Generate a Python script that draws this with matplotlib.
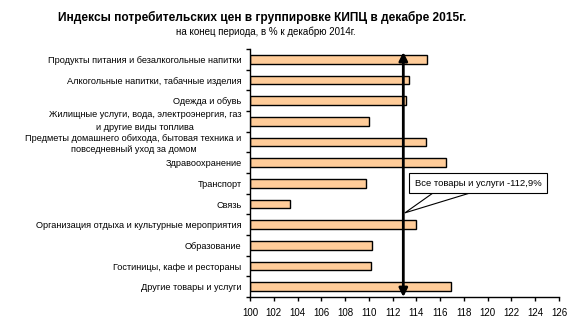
import matplotlib
matplotlib.use("Agg")
import matplotlib.pyplot as plt
from matplotlib.patches import Polygon, Rectangle
from matplotlib import font_manager as fm
import matplotlib.transforms as mtransforms

categories = [
    "Продукты питания и безалкогольные напитки",
    "Алкогольные напитки, табачные изделия",
    "Одежда и обувь",
    "Жилищные услуги, вода, электроэнергия, газ\nи другие виды топлива",
    "Предметы домашнего обихода, бытовая техника и\nповседневный уход за домом",
    "Здравоохранение",
    "Транспорт",
    "Связь",
    "Организация отдыха и культурные мероприятия",
    "Образование",
    "Гостиницы, кафе и рестораны",
    "Другие товары и услуги",
]
values = [114.9, 113.4, 113.1, 110.0, 114.8, 116.5, 109.8, 103.4, 114.0, 110.3, 110.2, 116.9]
total = 112.9
total_label = "Все товары и услуги -112,9%"
xticks = list(range(100, 127, 2))

names = {f.name for f in fm.fontManager.ttflist}
plt.rcParams['font.family'] = ['Liberation Sans', 'DejaVu Sans']
if "Liberation Sans Narrow" in names:
    title_family, title_size = "Liberation Sans Narrow", 10.5
else:
    title_family, title_size = "Liberation Sans", 8.6

fig = plt.figure(figsize=(5.86, 3.32), dpi=100)
ax = fig.add_axes([250/586, 1-297/332, (559-250)/586, (297-49)/332])

y = list(range(len(categories)))
ax.barh(y, [v - 100 for v in values], left=100, height=0.42,
        color="#FFCC99", edgecolor="black", linewidth=1.0, zorder=2)

ax.set_xlim(100, 126)
ax.set_ylim(len(categories) - 0.5, -0.5)
ax.set_xticks(xticks)
ax.set_xticklabels([str(t) for t in xticks], fontsize=7)
ax.set_yticks(y)
labels = ax.set_yticklabels(categories, fontsize=6.6, multialignment='center', linespacing=1.55)
ax.set_yticks([i - 0.5 for i in range(len(categories) + 1)], minor=True)
ax.tick_params(axis='y', which='major', length=0, pad=6)
ax.tick_params(axis='y', which='minor', length=3, width=1, direction='out')
ax.tick_params(axis='x', length=3, width=1, direction='out', pad=5)
for s in ['top', 'right']:
    ax.spines[s].set_visible(False)
for s in ['left', 'bottom']:
    ax.spines[s].set_linewidth(1)

# fine vertical placement of the two-line labels
labels[3].set_transform(labels[3].get_transform() + mtransforms.ScaledTranslation(0, 3/100, fig.dpi_scale_trans))
labels[4].set_linespacing(1.35)

ax.annotate("", xy=(total, -0.35), xytext=(total, len(categories) - 0.5),
            arrowprops=dict(arrowstyle="<|-|>,head_length=0.5,head_width=0.25",
                            color="black", lw=2, shrinkA=0, shrinkB=0), zorder=5)

# callout
poly = Polygon([(115.39, 6.47), (113.03, 7.43), (118.5, 6.47)], closed=True,
               facecolor="white", edgecolor="black", lw=0.8, zorder=6, clip_on=False)
ax.add_patch(poly)
rect = Rectangle((113.36, 5.5), 125.0 - 113.36, 0.97, facecolor="white",
                 edgecolor="black", lw=0.8, zorder=7, clip_on=False)
ax.add_patch(rect)
ax.text((113.36 + 125.0) / 2, 5.5 + 0.97 / 2, total_label, fontsize=6.8,
        ha='center', va='center', zorder=8)

fig.text(262/586, 1-17/332, "Индексы потребительских цен в группировке КИПЦ в декабре 2015г.",
         ha='center', va='center', fontsize=title_size, fontweight='bold',
         family=[title_family, 'DejaVu Sans'])
fig.text(266/586, 1-32/332, "на конец периода, в % к декабрю 2014г.",
         ha='center', va='center', fontsize=7)

fig.savefig("out.png", dpi=100)
